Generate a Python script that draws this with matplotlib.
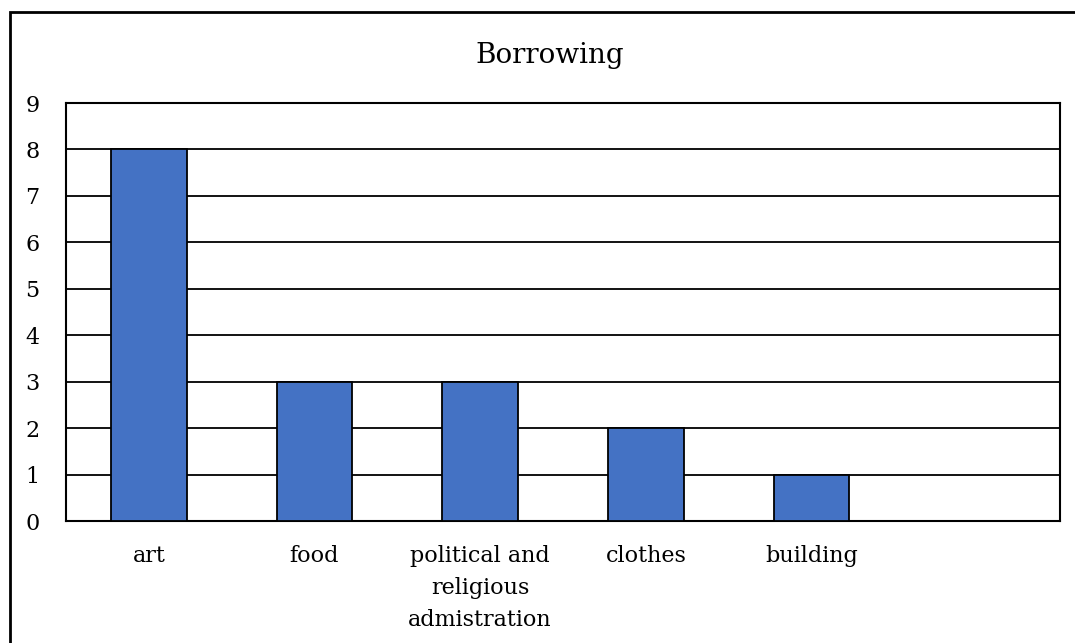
import matplotlib.pyplot as plt
from matplotlib.patches import Rectangle

# Data
categories = ["art", "food", "political and\nreligious\nadmistration", "clothes", "building"]
counts = [8, 3, 3, 2, 1]
yticks = list(range(0, 10))

plt.rcParams['font.family'] = ['DejaVu Serif']

fig = plt.figure(figsize=(10.75, 6.43), dpi=100)
ax = fig.add_axes([66 / 1075, 1 - 521 / 643, (1060 - 66) / 1075, (521 - 103) / 643])

# outer chart border (left/top visible, rest runs off the image)
fig.patches.append(Rectangle((10 / 1075, -0.05), 1.2, 1 - 12 / 643 + 0.05,
                             transform=fig.transFigure, fill=False,
                             edgecolor='black', linewidth=2))

ax.bar(range(len(categories)), counts, width=0.457, color='#4472C4',
       edgecolor='black', linewidth=1.3, zorder=3)

ax.set_xlim(-0.5, 5.5)
ax.set_ylim(0, 9)
ax.set_yticks(yticks)
ax.set_xticks(range(len(categories)))
ax.set_xticklabels(categories, fontsize=16, va='top', ha='center', linespacing=1.6)
ax.tick_params(axis='y', length=0, pad=19, labelsize=16)
ax.tick_params(axis='x', length=0, pad=17)
ax.grid(axis='y', color='black', linewidth=1.3, zorder=0)
for s in ax.spines.values():
    s.set_linewidth(1.5)
    s.set_color('black')

fig.text(550 / 1075, 1 - 63 / 643, "Borrowing", fontsize=20, ha='center', va='baseline')

plt.savefig("out.png", dpi=100)
